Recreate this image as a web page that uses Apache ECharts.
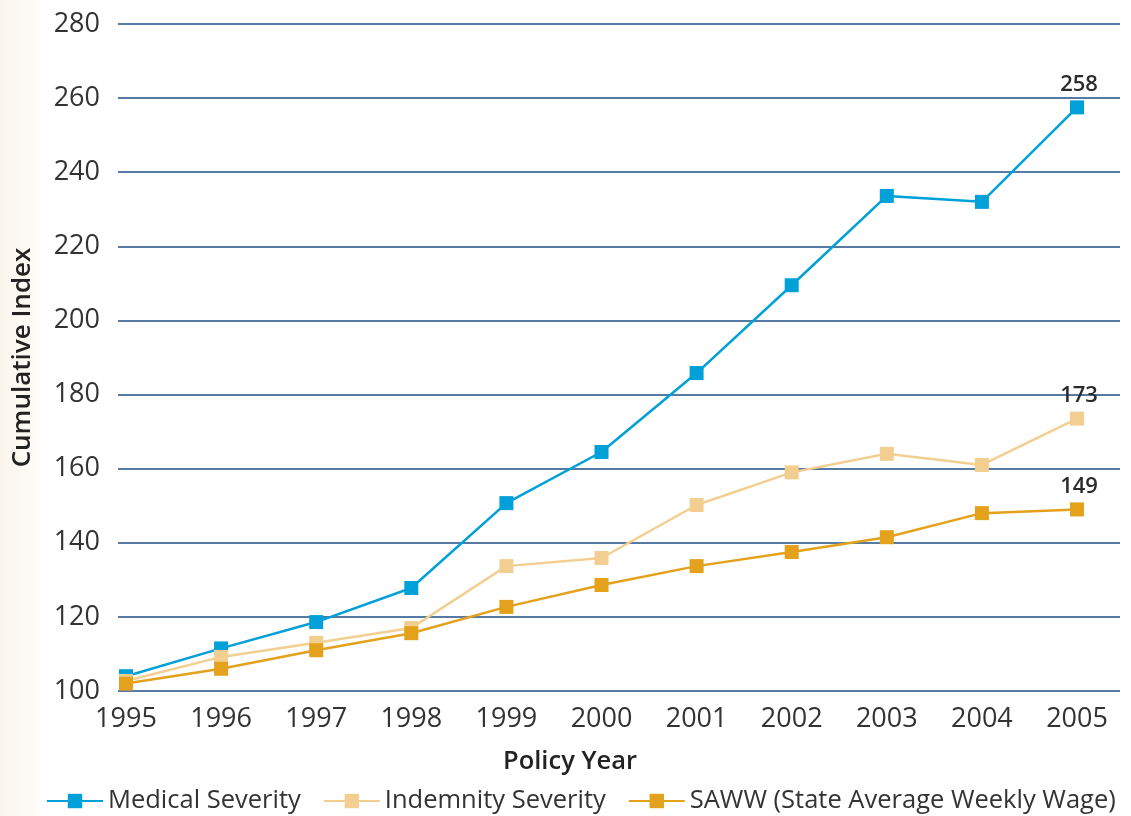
<!DOCTYPE html>
<html>
<head>
<meta charset="utf-8">
<title>Cumulative Index by Policy Year</title>
<script src="https://cdn.jsdelivr.net/npm/echarts@6/dist/echarts.min.js"></script>
<style>
  html, body { margin: 0; padding: 0; background: #fff; }
  #chart { width: 1131px; height: 816px; }
</style>
</head>
<body>
<div id="chart"></div>
<script>
// Data
var years = [1995, 1996, 1997, 1998, 1999, 2000, 2001, 2002, 2003, 2004, 2005];
var medicalSeverity = [104, 111.5, 118.6, 127.8, 150.7, 164.5, 185.8, 209.5, 233.6, 232, 257.5];
var indemnitySeverity = [102.7, 109.2, 113, 117, 133.7, 135.9, 150.2, 159, 164, 161, 173.5];
var saww = [102, 106, 111, 115.6, 122.7, 128.6, 133.7, 137.5, 141.5, 148, 149];
var seriesNames = ['Medical Severity', 'Indemnity Severity', 'SAWW (State Average Weekly Wage)'];
var endLabels = ['258', '173', '149'];

var font = '"Open Sans", "Noto Sans", sans-serif';

function pairs(values) {
    return values.map(function (v, i) { return [years[i], v]; });
}

function makeSeries(name, values, color, endLabel) {
    var data = pairs(values);
    var last = data.length - 1;
    data[last] = {
        value: data[last],
        label: {
            show: true,
            position: 'top',
            distance: 5,
            offset: [2, 0],
            formatter: endLabel,
            color: '#2b2b2b',
            fontFamily: font,
            fontSize: 22,
            fontWeight: 600
        }
    };
    return {
        name: name,
        type: 'line',
        data: data,
        symbol: 'rect',
        symbolSize: 14,
        lineStyle: { color: color, width: 2.5 },
        itemStyle: { color: color },
        emphasis: { disabled: true }
    };
}

var chart = echarts.init(document.getElementById('chart'));

chart.setOption({
    backgroundColor: '#fff',
    animation: false,
    textStyle: { fontFamily: font },

    // Cream strip on the left edge
    graphic: [{
        type: 'rect',
        left: 0,
        top: 0,
        z: -10,
        shape: { width: 45, height: 816 },
        style: {
            fill: new echarts.graphic.LinearGradient(0, 0, 1, 0, [
                { offset: 0, color: '#fbf6ec' },
                { offset: 0.6, color: '#fdfaf4' },
                { offset: 1, color: '#ffffff' }
            ])
        }
    }],

    grid: {
        left: 118,
        right: 11,
        top: 24,
        bottom: 125
    },

    legend: {
        data: seriesNames,
        bottom: 2,
        left: 46,
        width: 1200,
        padding: 0,
        itemWidth: 56,
        itemHeight: 18,
        itemGap: 22,
        textStyle: { color: '#333', fontSize: 25.5, fontFamily: font }
    },

    xAxis: {
        type: 'value',
        min: 1994.916,
        max: 2005.452,
        name: 'Policy Year',
        nameLocation: 'middle',
        nameGap: 58,
        nameTextStyle: {
            color: '#222',
            fontSize: 25.5,
            fontWeight: 600,
            fontFamily: font,
            padding: [0, 98, 0, 0]
        },
        axisLine: { show: false },
        axisTick: { show: false },
        splitLine: { show: false },
        axisLabel: {
            customValues: years,
            margin: 15,
            color: '#333',
            fontSize: 27,
            fontFamily: font,
            formatter: function (v) { return String(Math.round(v)); }
        }
    },

    yAxis: {
        type: 'value',
        min: 100,
        max: 280,
        interval: 20,
        name: 'Cumulative Index',
        nameLocation: 'middle',
        nameGap: 82,
        nameTextStyle: {
            color: '#222',
            fontSize: 26,
            fontWeight: 600,
            fontFamily: font
        },
        axisLine: { show: false },
        axisTick: { show: false },
        axisLabel: {
            margin: 18,
            color: '#333',
            fontSize: 27,
            fontFamily: font
        },
        splitLine: {
            lineStyle: { color: '#1d4f86', width: 1.5 }
        }
    },

    series: [
        makeSeries(seriesNames[0], medicalSeverity, '#00a0d8', endLabels[0]),
        makeSeries(seriesNames[1], indemnitySeverity, '#f2cf90', endLabels[1]),
        makeSeries(seriesNames[2], saww, '#e3a11c', endLabels[2])
    ]
});
</script>
</body>
</html>
